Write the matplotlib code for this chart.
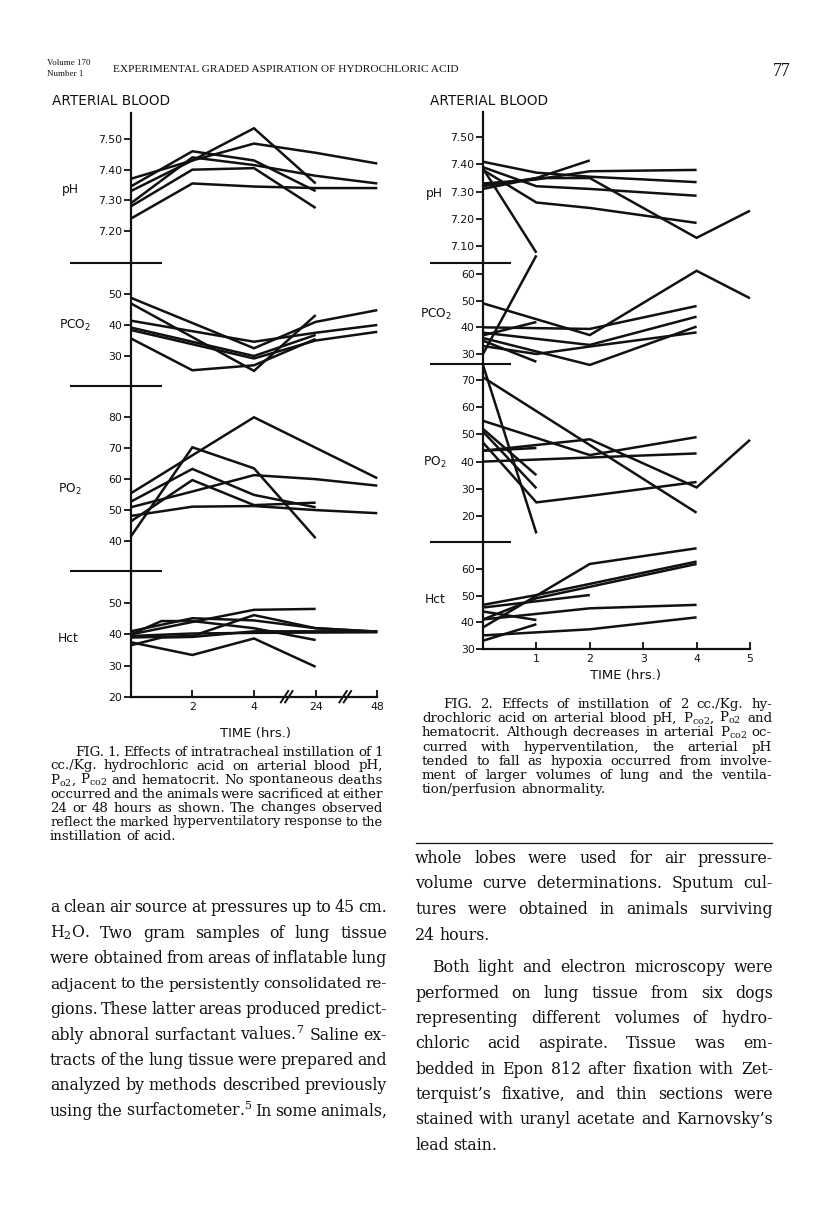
import matplotlib
matplotlib.use("Agg")
import matplotlib.pyplot as plt

# ---------------- data read from the scanned page ----------------
# Fig. 1 : 1 cc./Kg HCl, time in hours (broken axis: 0-4, 24, 48)
F1_XTICKS = [2, 4, 24, 48]
F1_XLABELS = ["2", "4", "24", "48"]

F1_PH_T = [[0, 2, 4, 24, 48], [0, 2, 4, 24], [0, 2, 4, 24], [0, 2, 4, 24, 48], [0, 2, 4, 24], [0, 2, 4, 24, 48]]
F1_PH_V = [[7.37, 7.43, 7.485, 7.455, 7.42], [7.33, 7.43, 7.535, 7.355], [7.345, 7.46, 7.43, 7.33],
           [7.29, 7.44, 7.415, 7.38, 7.355], [7.28, 7.40, 7.405, 7.275], [7.24, 7.355, 7.345, 7.34, 7.34]]

F1_PCO2_T = [[0, 4, 24, 48], [0, 4, 24], [0, 4, 24, 48], [0, 4, 24], [0, 4, 24, 48], [0, 2, 4, 24]]
F1_PCO2_V = [[48.8, 32.5, 41.0, 44.8], [47.0, 25.2, 43.2], [41.4, 34.6, 37.5, 40.0],
             [39.2, 30.0, 36.8], [38.4, 29.2, 35.0, 37.8], [35.7, 25.4, 27.0, 35.5]]

F1_PO2_T = [[0, 2, 4, 24], [0, 4, 48], [0, 2, 4, 24], [0, 2, 4, 24], [0, 2, 4, 24, 48], [0, 2, 4, 24, 48]]
F1_PO2_V = [[41.4, 70.3, 63.5, 40.9], [55.4, 80.0, 60.3], [52.7, 63.3, 54.9, 50.9],
            [46.3, 59.7, 51.6, 52.4], [50.9, 56.0, 61.3, 60.0, 57.9], [48.1, 51.1, 51.3, 50.0, 49.0]]

F1_HCT_T = [[0, 2, 4, 24], [0, 1, 2, 4, 24], [0, 2, 4, 24, 48], [0, 2, 4, 24, 48], [0, 2, 4, 24],
            [0, 2, 4, 48], [0, 1, 2, 4, 48]]
F1_HCT_V = [[37.5, 33.4, 38.7, 29.6], [40.0, 44.3, 44.3, 42.0, 38.2], [41.0, 45.2, 44.5, 42.0, 40.9],
            [39.0, 39.5, 46.2, 42.0, 40.9], [40.0, 44.0, 47.9, 48.2], [39.5, 40.3, 40.5, 40.7],
            [36.5, 39.0, 39.2, 41.0, 41.0]]

# Fig. 2 : 2 cc./Kg HCl, time in hours 0-5
F2_XTICKS = [1, 2, 3, 4, 5]
F2_XLABELS = ["1", "2", "3", "4", "5"]

F2_PH_T = [[0, 1, 2, 4], [0, 1, 2, 4], [0, 1, 2, 4], [0, 1, 2], [0, 1, 2, 4], [0, 1, 2, 4, 5], [0, 1], [0, 1]]
F2_PH_V = [[7.41, 7.37, 7.355, 7.335], [7.38, 7.26, 7.24, 7.185], [7.39, 7.32, 7.31, 7.285],
           [7.32, 7.35, 7.415], [7.33, 7.345, 7.375, 7.38], [7.31, 7.35, 7.35, 7.13, 7.23],
           [7.385, 7.075], [7.325, 7.345]]

F2_PCO2_T = [[0, 2, 4, 5], [0, 1], [0, 2, 4], [0, 2, 4], [0, 1], [0, 2, 4], [0, 1], [0, 1, 2, 4]]
F2_PCO2_V = [[49, 37.1, 61.2, 50.9], [30, 67], [40, 39.4, 48], [38, 33.4, 44], [37, 42],
             [36, 25.9, 40.3], [35, 27.1], [33, 30, 32.8, 38.1]]

F2_PO2_T = [[0, 1], [0, 4], [0, 2, 4], [0, 2, 4, 5], [0, 1], [0, 1], [0, 1, 2, 4], [0, 1], [0, 4]]
F2_PO2_V = [[75.5, 13.6], [71, 21.2], [55, 42.4, 49], [44, 48.2, 30.5, 48], [52, 35], [51, 30.2],
            [47, 25, 27.4, 32.5], [44, 45], [40, 43]]

F2_HCT_T = [[0, 2, 4], [0, 1, 4], [0, 1, 4], [0, 2], [0, 1], [0, 2, 4], [0, 1], [0, 2, 4]]
F2_HCT_V = [[38, 61.9, 67.8], [46.5, 50.2, 62.8], [41, 49.0, 61.9], [45.5, 50.2], [44, 40.8],
            [41, 45.2, 46.5], [33, 39.2], [35, 37.3, 41.8]]

PH1_TICKS = [7.5, 7.4, 7.3, 7.2]
PH2_TICKS = [7.5, 7.4, 7.3, 7.2, 7.1]
PCO2_1_TICKS = [50, 40, 30]
PCO2_2_TICKS = [60, 50, 40, 30]
PO2_1_TICKS = [80, 70, 60, 50, 40]
PO2_2_TICKS = [70, 60, 50, 40, 30, 20]
HCT1_TICKS = [50, 40, 30, 20]
HCT2_TICKS = [60, 50, 40, 30]

# ---------------- page setup ----------------
W, H = 816, 1219
plt.rcParams["mathtext.fontset"] = "dejavuserif"
SERIF = "DejaVu Serif"
HEAD = "Liberation Serif"
SANS = "DejaVu Sans"
INK = "#111111"

fig = plt.figure(figsize=(W / 100, H / 100), dpi=100)
fig.patch.set_facecolor("white")


def fx(x):
    return x / W


def fy(y):
    return 1 - y / H


def f1_pos(h):
    # broken time axis of Fig. 1: 0..4 h linear, then 24 h and 48 h
    return h / 2 if h <= 4 else {24: 3, 48: 4}[h]


def f2_pos(h):
    return h


def panel(x0, x1, top, bot, xlim, cal, ticks, labels, last, sep):
    (va, pa), (vb, pb) = cal
    upp = (va - vb) / (pb - pa)
    ylim = (vb - (bot - pb) * upp, va + (pa - top) * upp)
    ax = fig.add_axes([fx(x0), fy(bot), (x1 - x0) / W, (bot - top) / H])
    ax.set_xlim(xlim)
    ax.set_ylim(ylim)
    ax.patch.set_visible(False)
    for s in ("top", "right"):
        ax.spines[s].set_visible(False)
    ax.spines["left"].set_linewidth(1.6)
    ax.spines["left"].set_color(INK)
    ax.spines["bottom"].set_visible(last)
    ax.spines["bottom"].set_linewidth(1.6)
    ax.spines["bottom"].set_color(INK)
    ax.set_yticks(ticks, labels)
    ax.tick_params(axis="y", direction="out", length=5, width=1.3, pad=1,
                   labelsize=7.8, colors=INK)
    if not last:
        ax.set_xticks([])
        sx0 = (sep[0] - x0) / (x1 - x0)
        sx1 = (sep[1] - x0) / (x1 - x0)
        ax.plot([sx0, sx1], [0, 0], transform=ax.transAxes, color=INK, lw=1.5,
                clip_on=False, solid_capstyle="butt")
    return ax


def draw_series(ax, T, V, pos):
    for ts, vs in zip(T, V):
        ax.plot([pos(t) for t in ts], vs, color=INK, lw=1.8, clip_on=False,
                solid_joinstyle="miter", solid_capstyle="butt")


# ---------------- Fig. 1 ----------------
X1A, X1B = 130.7, 377.3
SEP1 = (70, 162)
f1_specs = [
    (113, 263, ((7.50, 139), (7.20, 231)), PH1_TICKS, ["%.2f" % v for v in PH1_TICKS], F1_PH_T, F1_PH_V),
    (263, 386, ((50, 294), (30, 356)), PCO2_1_TICKS, [str(v) for v in PCO2_1_TICKS], F1_PCO2_T, F1_PCO2_V),
    (386, 571, ((80, 417.3), (40, 541)), PO2_1_TICKS, [str(v) for v in PO2_1_TICKS], F1_PO2_T, F1_PO2_V),
    (571, 696.7, ((50, 603.3), (20, 696.7)), HCT1_TICKS, [str(v) for v in HCT1_TICKS], F1_HCT_T, F1_HCT_V),
]
for i, (top, bot, cal, tk, tl, T, V) in enumerate(f1_specs):
    last = i == len(f1_specs) - 1
    ax = panel(X1A, X1B, top, bot, (0, 4), cal, tk, tl, last, SEP1)
    draw_series(ax, T, V, f1_pos)
    if last:
        ax.set_xticks([f1_pos(t) for t in F1_XTICKS], F1_XLABELS)
        ax.tick_params(axis="x", direction="in", length=5, width=1.3, pad=4,
                       labelsize=7.8, colors=INK)
        tr = ax.get_xaxis_transform()
        for b in (f1_pos(4) + 0.53, f1_pos(24) + 0.48):
            for d in (-0.035, 0.035):
                ax.plot([b + d - 0.06, b + d + 0.06], [-0.045, 0.045], transform=tr,
                        color=INK, lw=1.4, clip_on=False)

# ---------------- Fig. 2 ----------------
X2A, X2B = 483, 750
SEP2 = (430, 511)
f2_specs = [
    (111.7, 262.6, ((7.50, 137.3), (7.10, 246)), PH2_TICKS, ["%.2f" % v for v in PH2_TICKS], F2_PH_T, F2_PH_V),
    (262.6, 364.2, ((60, 274), (30, 354)), PCO2_2_TICKS, [str(v) for v in PCO2_2_TICKS], F2_PCO2_T, F2_PCO2_V),
    (364.2, 542.3, ((70, 380), (20, 516)), PO2_2_TICKS, [str(v) for v in PO2_2_TICKS], F2_PO2_T, F2_PO2_V),
    (542.3, 648.7, ((60, 569), (30, 648.7)), HCT2_TICKS, [str(v) for v in HCT2_TICKS], F2_HCT_T, F2_HCT_V),
]
for i, (top, bot, cal, tk, tl, T, V) in enumerate(f2_specs):
    last = i == len(f2_specs) - 1
    ax = panel(X2A, X2B, top, bot, (0, 5), cal, tk, tl, last, SEP2)
    draw_series(ax, T, V, f2_pos)
    if last:
        ax.set_xticks(F2_XTICKS, F2_XLABELS)
        ax.tick_params(axis="x", direction="in", length=5, width=1.3, pad=4,
                       labelsize=7.8, colors=INK)

# ---------------- chart labels ----------------
def lab(x, y, s, size=8.8, ha="left", weight="normal"):
    fig.text(fx(x), fy(y), s, ha=ha, va="center", fontsize=size, family=SANS,
             color=INK, math_fontfamily="dejavusans", fontweight=weight)


lab(52, 101, "ARTERIAL BLOOD", size=9.8)
lab(430, 101, "ARTERIAL BLOOD", size=9.8)
lab(62, 190, "pH")
lab(59, 325, "PCO$_2$")
lab(58, 489, "PO$_2$")
lab(58, 639, "Hct")
lab(426, 193, "pH")
lab(420, 314, "PCO$_2$")
lab(423, 462, "PO$_2$")
lab(425, 600, "Hct")
lab(255, 733, "TIME (hrs.)", size=9.5, ha="center")
lab(626, 676, "TIME (hrs.)", size=9.5, ha="center")

# ---------------- page header ----------------
fig.text(fx(47), fy(65), "Volume 170", fontsize=6.4, family=HEAD, color=INK, va="baseline")
fig.text(fx(47), fy(76), "Number 1", fontsize=6.4, family=HEAD, color=INK, va="baseline")
fig.text(fx(113), fy(72.5), "EXPERIMENTAL GRADED ASPIRATION OF HYDROCHLORIC ACID",
         fontsize=8.2, family=HEAD, color=INK, va="baseline")
fig.text(fx(791), fy(76), "77", fontsize=13, family=HEAD, color=INK, va="baseline", ha="right")

# ---------------- justified text blocks ----------------
renderer = fig.canvas.get_renderer()


def place_line(words, y, size):
    ts = [fig.text(0, fy(y), w, fontsize=size, family=SERIF, color=INK,
                   va="baseline", ha="left", math_fontfamily="dejavuserif") for w in words]
    ws = [t.get_window_extent(renderer).width for t in ts]
    return ts, ws


def block(lines, x0, x1, y0, dy, size, indents, just):
    for i, line in enumerate(lines):
        y = y0 + i * dy
        xs = x0 + indents[i]
        words = line.split(" ")
        sz = size
        ts, ws = place_line(words, y, sz)
        min_gap = sz * 100 / 72 * 0.18
        need = sum(ws) + min_gap * (len(words) - 1)
        if need > x1 - xs:
            for t in ts:
                t.remove()
            sz = size * (x1 - xs - min_gap * (len(words) - 1)) / sum(ws) * 0.995
            ts, ws = place_line(words, y, sz)
        if just[i] and len(words) > 1:
            gap = (x1 - xs - sum(ws)) / (len(words) - 1)
        else:
            gap = sz * 100 / 72 * 0.3
        x = xs
        for t, w in zip(ts, ws):
            t.set_x(fx(x))
            x += w + gap


CAP1 = [
    "FIG. 1. Effects of intratracheal instillation of 1",
    "cc./Kg. hydrochloric acid on arterial blood pH,",
    r"P$_{\mathrm{o2}}$, P$_{\mathrm{co2}}$ and hematocrit. No spontaneous deaths",
    "occurred and the animals were sacrificed at either",
    "24 or 48 hours as shown. The changes observed",
    "reflect the marked hyperventilatory response to the",
    "instillation of acid.",
]
block(CAP1, 50, 383, 755.5, 14, 9.6, [25, 0, 0, 0, 0, 0, 0], [1, 1, 1, 1, 1, 1, 0])

CAP2 = [
    "FIG. 2. Effects of instillation of 2 cc./Kg. hy-",
    r"drochloric acid on arterial blood pH, P$_{\mathrm{co2}}$, P$_{\mathrm{o2}}$ and",
    r"hematocrit. Although decreases in arterial P$_{\mathrm{co2}}$ oc-",
    "curred with hyperventilation, the arterial pH",
    "tended to fall as hypoxia occurred from involve-",
    "ment of larger volumes of lung and the ventila-",
    "tion/perfusion abnormality.",
]
block(CAP2, 422, 772, 708, 14.2, 9.6, [21, 0, 0, 0, 0, 0, 0], [1, 1, 1, 1, 1, 1, 0])

BODY_L = [
    "a clean air source at pressures up to 45 cm.",
    "H$_2$O. Two gram samples of lung tissue",
    "were obtained from areas of inflatable lung",
    "adjacent to the persistently consolidated re-",
    "gions. These latter areas produced predict-",
    "ably abnoral surfactant values.$^7$ Saline ex-",
    "tracts of the lung tissue were prepared and",
    "analyzed by methods described previously",
    "using the surfactometer.$^5$ In some animals,",
]
block(BODY_L, 50, 387, 912, 25.5, 11.3, [0] * 9, [1] * 9)

BODY_R1 = [
    "whole lobes were used for air pressure-",
    "volume curve determinations. Sputum cul-",
    "tures were obtained in animals surviving",
    "24 hours.",
]
block(BODY_R1, 415, 773, 863, 25.5, 11.3, [0] * 4, [1, 1, 1, 0])

BODY_R2 = [
    "Both light and electron microscopy were",
    "performed on lung tissue from six dogs",
    "representing different volumes of hydro-",
    "chloric acid aspirate. Tissue was em-",
    "bedded in Epon 812 after fixation with Zet-",
    "terquist\u2019s fixative, and thin sections were",
    "stained with uranyl acetate and Karnovsky\u2019s",
    "lead stain.",
]
block(BODY_R2, 415, 773, 972.5, 25.3, 11.3, [17, 0, 0, 0, 0, 0, 0, 0], [1, 1, 1, 1, 1, 1, 1, 0])

# rule above the right-hand body text
fig.add_artist(plt.Line2D([fx(416), fx(772)], [fy(843), fy(843)], color=INK, lw=0.9))

fig.savefig("out.png", dpi=100, facecolor="white")
